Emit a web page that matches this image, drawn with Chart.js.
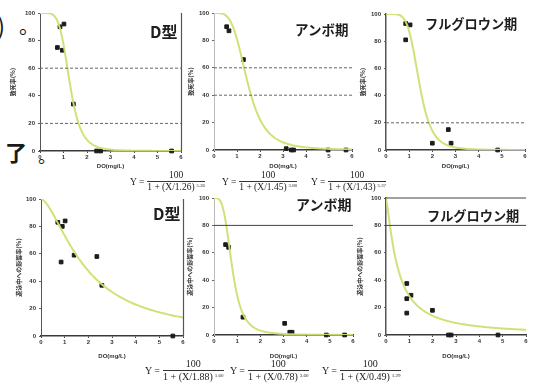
<!doctype html>
<html lang="ja">
<head>
<meta charset="utf-8">
<title>DOと致死率・影響率</title>
<script src="https://cdn.jsdelivr.net/npm/chart.js"></script>
<style>
    * {
        margin: 0;
        padding: 0;
    }

    body {
        width: 536px;
        height: 385px;
        background: #fff;
        position: relative;
        overflow: hidden;
        font-family: "Noto Sans CJK JP", sans-serif;
        color: #222;
    }

    canvas {
        position: absolute;
    }

    .name {
        position: absolute;
        line-height: 1;
        white-space: nowrap;
        font-weight: bold;
        color: #1e1e1e;
    }

    .eq {
        position: absolute;
        font-family: "Liberation Serif", "DejaVu Serif", serif;
        display: flex;
        align-items: center;
        white-space: nowrap;
        color: #222;
    }

    .frac {
        display: inline-flex;
        flex-direction: column;
        align-items: center;
        margin-left: 3px;
    }

    .frac .num {
        width: 100%;
        text-align: center;
        border-bottom: 1px solid #333;
        line-height: 1.05;
    }

    .frac .den {
        line-height: 1.1;
    }

    .frac sup {
        font-size: 50%;
        vertical-align: 50%;
        margin-left: 2px;
    }

    .frag {
        position: absolute;
        color: #1a1a1a;
        line-height: 1;
    }
</style>
</head>
<body>
    <div class="frag" style="left:-3px; top:13px; font-size:24px;">)</div>
    <div class="frag" style="left:19px; top:16px; font-size:20px;">。</div>
    <div class="frag" style="left:5px; top:140px; font-size:22px; font-weight:bold;">了</div>
    <div class="frag" style="left:38px; top:146px; font-size:18px;">。</div>

    <canvas id="c0" width="190" height="170"></canvas>
    <canvas id="c1" width="175" height="170"></canvas>
    <canvas id="c2" width="181" height="170"></canvas>
    <canvas id="c3" width="190" height="175"></canvas>
    <canvas id="c4" width="175" height="175"></canvas>
    <canvas id="c5" width="181" height="175"></canvas>

    <script>
        // 上段: 致死率 / 下段: 影響率  (x = DO mg/L, y = %)
        const panelNames = ['D型', 'アンボ期', 'フルグロウン期', 'D型', 'アンボ期', 'フルグロウン期'];
        const yTitleTop = '致死率(%)';
        const yTitleBottom = '遊泳中への影響率(%)';
        const xTitle = 'DO(mg/L)';

        const mortD_do = [0.85, 1.02, 0.74, 0.95, 1.42, 2.41, 2.58, 5.6];
        const mortD_rate = [90, 92, 75, 73, 34, 0, 0, 0];
        const mortA_do = [0.55, 0.65, 1.28, 3.14, 3.36, 3.46, 4.96, 5.74];
        const mortA_rate = [90, 87, 66, 1, 0, 0, 0, 0];
        const mortF_do = [0.85, 1.04, 0.85, 2.0, 2.69, 2.81, 4.82];
        const mortF_rate = [93, 92, 81, 5, 15, 5, 0];

        const avoidD_do = [0.71, 0.9, 1.02, 0.85, 1.4, 2.36, 2.57, 5.57];
        const avoidD_rate = [83, 80, 84, 54, 59, 58, 37, 0];
        const avoidA_do = [0.5, 0.63, 1.25, 3.05, 3.27, 3.37, 4.85, 5.64];
        const avoidA_rate = [66, 64, 13, 8.5, 2, 2, 0, 0];
        const avoidF_do = [0.89, 0.89, 1.07, 0.89, 1.99, 2.68, 2.79, 4.8];
        const avoidF_rate = [37.6, 26.5, 29, 16, 18, 0, 0, 0];

        // Y = 100 / (1 + (X/a)^b)
        const fitA = [1.26, 1.45, 1.43, 1.88, 0.78, 0.49];
        const fitB = [5.26, 3.88, 5.37, 1.60, 3.60, 1.29];

        // horizontal guide levels per panel
        const refLevels = [[60, 20], [60, 40], [20], [], [80], [100, 80]];

        const xTicks = [0, 1, 2, 3, 4, 5, 6];
        const yTicks = [0, 20, 40, 60, 80, 100];

        const series = [
            [mortD_do, mortD_rate], [mortA_do, mortA_rate], [mortF_do, mortF_rate],
            [avoidD_do, avoidD_rate], [avoidA_do, avoidA_rate], [avoidF_do, avoidF_rate]
        ];

        // canvas placement and fixed axis sizes
        const layout = [
            { left: 0, top: 0, yW: 40, padT: 13, padR: 9, xH: 19, tPad: 9, yDash: [], refDash: [3, 2], frame: true },
            { left: 185, top: 0, yW: 29, padT: 13, padR: 8, xH: 20, tPad: 2, yDash: [], refDash: [3, 2], yFaint: true },
            { left: 355, top: 0, yW: 31, padT: 14, padR: 11, xH: 20, tPad: 4, yDash: [1, 1], refDash: [3, 2] },
            { left: 0, top: 185, yW: 41, padT: 14, padR: 7, xH: 24, tPad: 15, yDash: [], refDash: [3, 2], frame: true },
            { left: 185, top: 185, yW: 29, padT: 13, padR: 7, xH: 25, tPad: 1, yDash: [], refDash: [], yFaint: true },
            { left: 355, top: 185, yW: 31, padT: 13, padR: 10, xH: 25, tPad: 1, yDash: [1, 1], refDash: [] }
        ];

        // [left, top, font size]
        const namePos = [
            [150, 23, 16], [295, 23, 13.5], [425, 17, 13.2],
            [153, 205, 16], [296, 197, 14], [427, 209, 13.2]
        ];

        const eqPos = [
            [130, 171, 9.5], [222, 171, 9.5], [311, 171, 9.5],
            [145, 359, 10], [230, 359, 10], [322, 359, 10]
        ];

        // right edge line for the D型 panels
        const frameLine = {
            id: 'frameLine',
            afterDraw(chart, args, opts) {
                if (!opts.on) return;
                const a = chart.chartArea;
                const ctx = chart.ctx;
                ctx.save();
                ctx.strokeStyle = '#555';
                ctx.lineWidth = 1.2;
                ctx.beginPath();
                ctx.moveTo(a.right + 0.5, a.top);
                ctx.lineTo(a.right + 0.5, a.bottom);
                ctx.stroke();
                ctx.restore();
            }
        };

        function fitCurve(i) {
            const pts = [];
            for (let k = 0; k <= 120; k++) {
                const x = k * 0.05;
                pts.push({ x: x, y: 100 / (1 + Math.pow(x / fitA[i], fitB[i])) });
            }
            return pts;
        }

        const tickFont = { family: 'Liberation Sans, Arial, sans-serif', size: 6, weight: 'bold' };

        function buildChart(i) {
            const L = layout[i];
            const canvas = document.getElementById('c' + i);
            canvas.style.left = L.left + 'px';
            canvas.style.top = L.top + 'px';

            const datasets = [];
            refLevels[i].forEach(lv => {
                datasets.push({
                    type: 'line',
                    data: [{ x: 0, y: lv }, { x: 6, y: lv }],
                    borderColor: L.refDash.length ? '#666' : '#444',
                    borderWidth: 1,
                    borderDash: L.refDash,
                    pointRadius: 0,
                    clip: false
                });
            });
            datasets.push({
                type: 'line',
                data: fitCurve(i),
                borderColor: 'rgba(210, 222, 112, 0.95)',
                borderWidth: 2,
                pointRadius: 0,
                tension: 0
            });
            const xs = series[i][0], ys = series[i][1];
            datasets.push({
                type: 'scatter',
                data: xs.map((x, k) => ({ x: x, y: ys[k] })),
                pointStyle: 'rect',
                pointRadius: 2.6,
                backgroundColor: '#1c1c1c',
                borderColor: '#1c1c1c',
                clip: false
            });

            new Chart(canvas, {
                type: 'scatter',
                data: { datasets: datasets },
                plugins: [frameLine],
                options: {
                    responsive: false,
                    animation: false,
                    devicePixelRatio: 1,
                    layout: { padding: { top: L.padT, right: L.padR, left: 0, bottom: 0 } },
                    plugins: {
                        legend: { display: false },
                        tooltip: { enabled: false },
                        frameLine: { on: !!L.frame }
                    },
                    scales: {
                        x: {
                            type: 'linear',
                            min: 0,
                            max: 6,
                            afterBuildTicks: s => { s.ticks = xTicks.map(v => ({ value: v })); },
                            ticks: { font: tickFont, color: '#333', padding: 1, maxRotation: 0, autoSkip: false },
                            grid: { drawOnChartArea: false, tickLength: 2, color: '#444' },
                            border: { color: '#3a3a3a', width: 1.5, dash: [2, 1] },
                            title: { display: true, text: xTitle, font: tickFont, color: '#333', padding: { top: 1, bottom: 0 } },
                            afterFit: s => { s.height = L.xH; }
                        },
                        y: {
                            min: 0,
                            max: 100,
                            afterBuildTicks: s => { s.ticks = yTicks.map(v => ({ value: v })); },
                            ticks: { font: tickFont, color: '#333', padding: 3, autoSkip: false },
                            grid: { drawOnChartArea: false, tickLength: 2, color: '#666' },
                            border: { color: L.yFaint ? '#bbb' : '#555', width: L.yDash.length ? 1.5 : 1, dash: L.yDash },
                            title: {
                                display: true,
                                text: i < 3 ? yTitleTop : yTitleBottom,
                                font: { family: 'Noto Sans CJK JP', size: 6, weight: 'bold' },
                                color: '#333',
                                padding: { top: L.tPad, bottom: 0 }
                            },
                            afterFit: s => { s.width = L.yW; }
                        }
                    }
                }
            });
        }

        function addName(i) {
            const d = document.createElement('div');
            d.className = 'name';
            d.textContent = panelNames[i];
            d.style.left = namePos[i][0] + 'px';
            d.style.top = namePos[i][1] + 'px';
            d.style.fontSize = namePos[i][2] + 'px';
            document.body.appendChild(d);
        }

        function addEquation(i) {
            const d = document.createElement('div');
            d.className = 'eq';
            d.style.left = eqPos[i][0] + 'px';
            d.style.top = eqPos[i][1] + 'px';
            d.style.fontSize = eqPos[i][2] + 'px';
            d.innerHTML = '<span>Y =</span><span class="frac"><span class="num">100</span>' +
                '<span class="den">1 + (X/' + fitA[i].toFixed(2) + ')<sup>' + fitB[i].toFixed(2) + '</sup></span></span>';
            document.body.appendChild(d);
        }

        for (let i = 0; i < 6; i++) {
            buildChart(i);
            addName(i);
            addEquation(i);
        }
    </script>
</body>
</html>
